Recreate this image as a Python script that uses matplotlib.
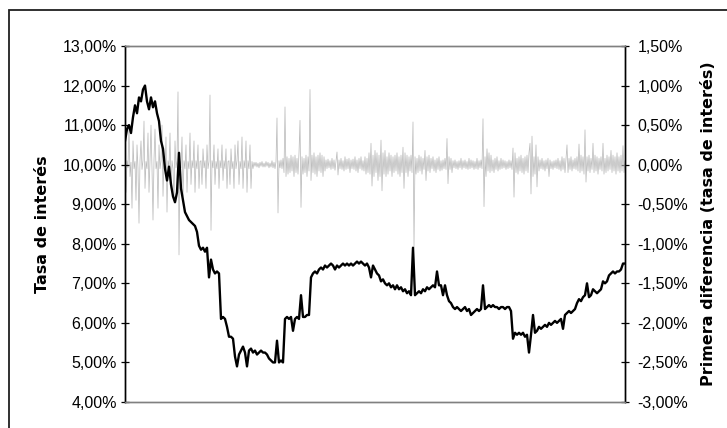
import numpy as np
import matplotlib.pyplot as plt
from matplotlib.patches import Rectangle
from matplotlib.ticker import FuncFormatter

plt.rcParams['font.family'] = ['Liberation Sans', 'DejaVu Sans']

# interest rate level (%), one value per observation
tasa = [
    10.6, 10.9, 11.0, 10.8, 11.2, 11.5, 11.3, 11.7, 11.6, 11.9,
    12.0, 11.6, 11.4, 11.7, 11.45, 11.6, 11.3, 11.1, 10.6, 10.4,
    9.9, 9.6, 9.95, 9.5, 9.2, 9.05, 9.3, 10.3, 9.4, 9.1,
    8.8, 8.7, 8.6, 8.55, 8.5, 8.45, 8.3, 7.95, 7.85, 7.9,
    7.8, 7.9, 7.15, 7.6, 7.35, 7.25, 7.3, 7.25, 6.1, 6.15,
    6.1, 5.9, 5.65, 5.65, 5.6, 5.15, 4.9, 5.2, 5.3, 5.4,
    5.25, 4.9, 5.3, 5.35, 5.25, 5.3, 5.2, 5.25, 5.3, 5.25,
    5.25, 5.2, 5.1, 5.05, 5.0, 5.0, 5.55, 5.0, 5.05, 5.0,
    6.1, 6.15, 6.1, 6.15, 5.8, 6.1, 6.15, 6.1, 6.7, 6.15,
    6.15, 6.2, 6.2, 7.15, 7.25, 7.3, 7.25, 7.35, 7.4, 7.35,
    7.45, 7.4, 7.45, 7.5, 7.45, 7.35, 7.45, 7.4, 7.45, 7.5,
    7.45, 7.5, 7.45, 7.5, 7.45, 7.5, 7.55, 7.5, 7.55, 7.5,
    7.45, 7.5, 7.4, 7.15, 7.45, 7.35, 7.25, 7.2, 7.05, 7.1,
    7.0, 6.95, 7.0, 6.9, 6.95, 6.85, 6.95, 6.85, 6.9, 6.8,
    6.85, 6.75, 6.8, 6.7, 7.9, 6.7, 6.75, 6.8, 6.75, 6.85,
    6.8, 6.9, 6.85, 6.9, 6.95, 6.9, 7.3, 6.95, 6.95, 6.7,
    6.95, 6.7, 6.55, 6.5, 6.4, 6.35, 6.4, 6.35, 6.3, 6.35,
    6.4, 6.3, 6.35, 6.2, 6.25, 6.3, 6.35, 6.3, 6.35, 6.95,
    6.35, 6.4, 6.45, 6.4, 6.45, 6.4, 6.4, 6.35, 6.4, 6.4,
    6.35, 6.4, 6.4, 6.3, 5.6, 5.75, 5.7, 5.75, 5.7, 5.75,
    5.65, 5.7, 5.25, 5.7, 6.2, 5.75, 5.8, 5.9, 5.85, 5.9,
    5.95, 5.9, 6.0, 5.95, 6.0, 6.05, 6.0, 6.05, 6.1, 5.85,
    6.2, 6.25, 6.3, 6.25, 6.3, 6.35, 6.5, 6.6, 6.55, 6.65,
    6.7, 7.0, 6.65, 6.7, 6.85, 6.8, 6.75, 6.8, 6.85, 7.05,
    7.0, 7.05, 7.2, 7.25, 7.3, 7.25, 7.3, 7.3, 7.35, 7.5,
    7.5,
]

# first difference (%), right axis
dif = [
    0.2, -0.35, 0.05, -0.04, 0.5, -0.15, 0.03, -0.55, 0.3, -0.05,
    0.04, -0.45, 0.25, -0.05, -0.74, 0.05, 0.3, -0.06, 0.05, 0.55,
    -0.3, 0.04, -0.05, 0.4, -0.35, 0.05, 0.5, -0.05, -0.7, 0.06,
    0.45, -0.05, 0.04, -0.55, 0.25, -0.05, 0.05, 0.5, -0.4, 0.04,
    -0.05, 0.35, -0.6, 0.05, -0.04, 0.4, -0.3, 0.05, -0.05, -0.45,
    0.3, -0.04, 0.05, 0.92, -1.14, 0.05, -0.04, 0.35, -0.4, 0.05,
    -0.05, 0.25, -0.35, 0.04, -0.05, 0.4, -0.25, 0.05, -0.04, 0.3,
    -0.35, 0.05, -0.05, 0.25, -0.3, 0.04, 0.05, -0.25, 0.2, -0.04,
    0.05, -0.3, 0.25, -0.05, 0.04, 0.88, -0.83, 0.05, -0.04, 0.25,
    -0.25, 0.04, -0.05, 0.2, -0.3, 0.05, -0.04, 0.25, -0.2, 0.05,
    -0.05, 0.2, -0.3, 0.04, 0.05, -0.25, 0.2, -0.05, 0.04, -0.3,
    0.25, -0.05, 0.05, 0.3, -0.25, 0.04, -0.05, 0.35, -0.3, 0.05,
    -0.04, 0.3, -0.35, 0.05, -0.05, 0.25, -0.3, 0.04, -0.05, 0.03,
    -0.02, 0.03, -0.03, 0.02, -0.04, 0.03, -0.02, 0.04, -0.03, 0.02,
    -0.03, 0.04, -0.02, 0.03, -0.04, 0.02, -0.03, 0.05, -0.04, 0.03,
    -0.05, 0.04, 0.59, -0.61, 0.05, -0.04, 0.06, -0.05, 0.08, -0.1,
    0.73, -0.15, 0.1, -0.12, 0.08, -0.1, 0.12, -0.08, 0.1, -0.15,
    0.12, -0.1, 0.08, -0.12, 0.15, 0.56, -0.54, 0.1, -0.12, 0.08,
    -0.1, 0.12, -0.15, 0.1, -0.08, 0.95, -0.2, 0.12, -0.1, 0.15,
    -0.12, 0.1, -0.15, 0.12, -0.08, 0.15, -0.1, 0.12, -0.15, 0.1,
    -0.08, 0.06, -0.05, 0.07, -0.04, 0.05, -0.06, 0.08, -0.05, 0.06,
    -0.07, 0.05, 0.16, -0.13, 0.06, -0.05, 0.08, -0.06, 0.05, -0.08,
    0.1, -0.06, 0.07, -0.05, 0.08, -0.1, 0.06, -0.05, 0.07, -0.06,
    0.1, -0.08, 0.06, -0.1, 0.08, -0.05, 0.1, -0.07, 0.05, -0.08,
    0.1, -0.12, 0.08, -0.1, 0.15, -0.12, 0.27, -0.27, 0.12, -0.15,
    0.18, -0.1, 0.15, -0.2, 0.12, -0.15, 0.31, -0.33, 0.15, -0.12,
    0.18, -0.15, 0.1, -0.12, 0.15, -0.08, 0.12, -0.15, 0.1, -0.1,
    0.12, -0.08, 0.15, -0.12, 0.1, -0.15, 0.12, -0.1, 0.22, -0.3,
    0.15, -0.1, 0.12, -0.15, 0.1, -0.08, 0.12, -0.1, 0.54, -1.05,
    0.1, -0.12, 0.08, -0.1, 0.12, -0.08, 0.1, -0.12, 0.08, -0.06,
    0.18, -0.2, 0.1, -0.08, 0.12, -0.1, 0.08, -0.05, 0.1, -0.08,
    0.06, -0.1, 0.08, -0.06, 0.1, -0.08, 0.05, -0.07, 0.06, -0.05,
    0.08, -0.06, 0.33, -0.24, 0.1, -0.06, 0.08, -0.1, 0.05, -0.04,
    0.06, -0.05, 0.04, -0.06, 0.05, -0.04, 0.08, -0.06, 0.05, -0.04,
    0.06, -0.05, 0.04, -0.06, 0.08, -0.05, 0.06, -0.04, 0.05, -0.06,
    0.04, -0.05, 0.08, -0.06, 0.05, -0.04, 0.06, -0.05, 0.58, -0.53,
    0.1, -0.15, 0.2, -0.08, 0.15, -0.1, 0.12, -0.08, 0.06, -0.1,
    0.08, -0.06, 0.1, -0.08, 0.05, -0.06, 0.08, -0.05, 0.06, -0.04,
    0.05, -0.06, 0.04, -0.05, 0.06, -0.04, 0.05, -0.06, 0.21, -0.41,
    0.15, -0.1, 0.08, -0.12, 0.1, -0.08, 0.12, -0.1, 0.08, -0.12,
    0.1, -0.08, 0.12, -0.1, 0.15, 0.27, -0.37, 0.36, -0.15, 0.1,
    -0.12, 0.25, -0.28, 0.1, -0.08, 0.06, -0.05, 0.08, -0.06, 0.05,
    -0.08, 0.06, -0.05, 0.08, -0.15, 0.06, -0.05, 0.04, -0.06, 0.05,
    -0.04, 0.06, -0.05, 0.08, -0.06, 0.05, -0.08, 0.1, -0.06, 0.08,
    -0.1, 0.08, 0.25, -0.1, 0.08, -0.06, 0.1, -0.08, 0.06, -0.05,
    0.08, -0.06, 0.1, -0.08, 0.26, -0.1, 0.12, -0.08, 0.1, -0.12,
    0.44, -0.22, 0.1, -0.08, 0.12, -0.1, 0.08, -0.06, 0.27, -0.1,
    0.12, -0.08, 0.1, -0.12, 0.08, -0.06, 0.1, -0.08, 0.27, -0.12,
    0.08, -0.1, 0.12, -0.08, 0.1, -0.06, 0.18, -0.1, 0.12, -0.08,
    0.1, -0.12, 0.15, -0.08, 0.1, -0.1, 0.12, -0.08, 0.24, -0.1,
    0.05,
]

left_ticks = [4, 5, 6, 7, 8, 9, 10, 11, 12, 13]
right_ticks = [-3.0, -2.5, -2.0, -1.5, -1.0, -0.5, 0.0, 0.5, 1.0, 1.5]

def pct(v, pos=None):
    return f"{v:.2f}".replace('.', ',') + '%'

x1 = np.arange(len(tasa))
x2 = np.arange(len(dif)) * (len(tasa) - 1) / (len(dif) - 1)

fig = plt.figure(figsize=(7.27, 4.28), dpi=100)
ax = fig.add_axes([0.17194, 0.06075, 0.68776, 0.83178])
ax2 = ax.twinx()

ax2.plot(x2, dif, color='#bcbcbc', lw=0.55)
ax.plot(x1, tasa, color='black', lw=1.7)
ax.set_zorder(ax2.get_zorder() + 1)
ax.patch.set_visible(False)

ax.set_xlim(0, len(tasa) - 1)
ax.set_ylim(4, 13)
ax2.set_ylim(-3, 1.5)
ax.set_xticks([])
ax.set_yticks(left_ticks)
ax2.set_yticks(right_ticks)
ax.yaxis.set_major_formatter(FuncFormatter(pct))
ax2.yaxis.set_major_formatter(FuncFormatter(pct))

ax.tick_params(axis='y', direction='inout', length=6, width=0.9, pad=3, labelsize=11.5)
ax2.tick_params(axis='y', direction='inout', length=6, width=0.9, pad=6, labelsize=11.5)

for a in (ax, ax2):
    a.spines['top'].set_color('#808080')
    a.spines['bottom'].set_color('#808080')
    a.spines['left'].set_color('black')
    a.spines['right'].set_color('black')
    for s in a.spines.values():
        s.set_linewidth(1.0)

lab_font = dict(fontsize=11.5, fontweight='bold', family='DejaVu Sans')
ax.set_ylabel('Tasa de interés', **lab_font)
ax.yaxis.set_label_coords(-0.15, 0.5)
ax2.set_ylabel('Primera diferencia (tasa de interés)', **lab_font)
ax2.yaxis.set_label_coords(1.152, 0.5)

# outer chart frame (cut off at right and bottom)
fig.patches.append(Rectangle((9 / 727, -0.2), 1.2, 1.2 - 10 / 428, transform=fig.transFigure,
                             fill=False, edgecolor='#202020', lw=1.3))

fig.savefig('out.png', dpi=100)
